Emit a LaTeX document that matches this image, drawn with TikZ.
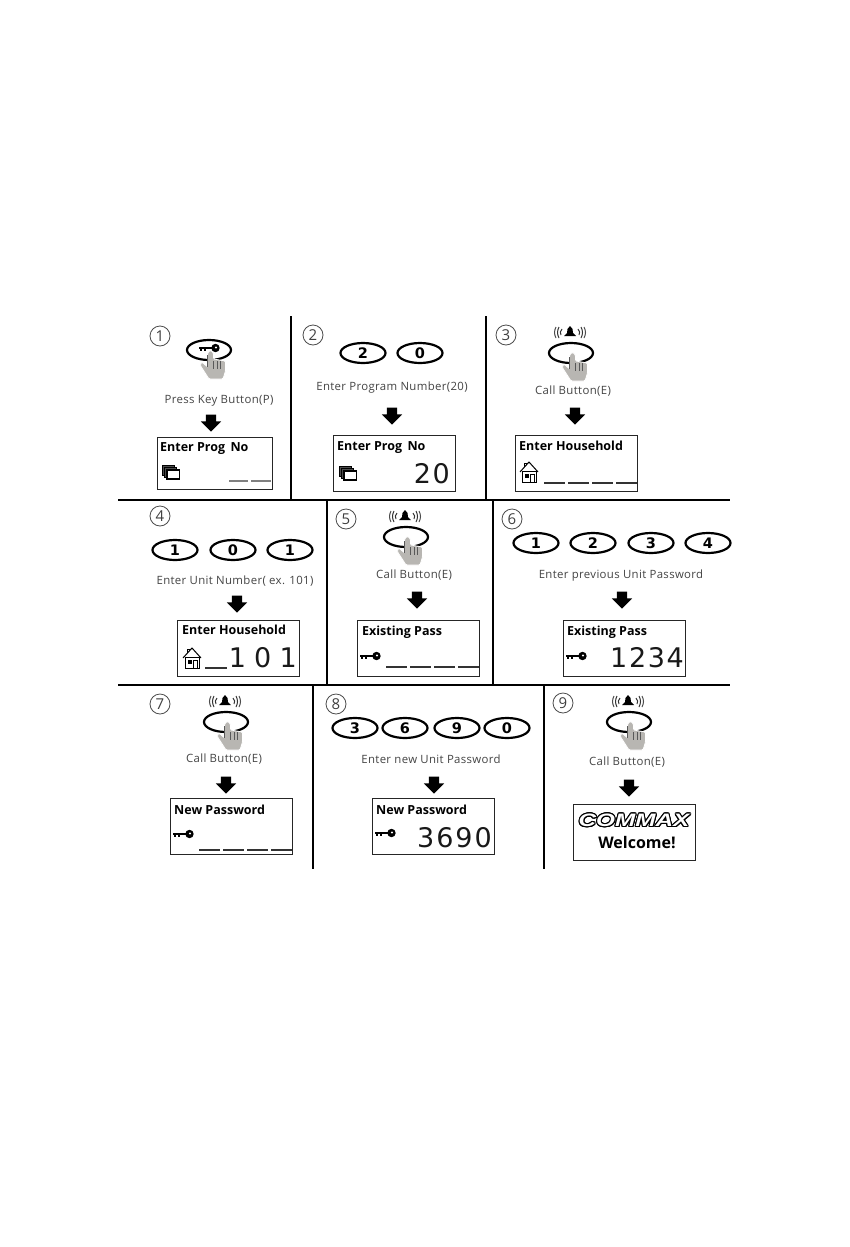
\documentclass[tikz,border=0pt]{standalone}
\usepackage{fontspec}
\usepackage{contour}
\usetikzlibrary{shapes.geometric,shapes.arrows}
\setmainfont{Open Sans}
\newfontfamily\labelfont[LetterSpace=3]{Open Sans}
\newfontfamily\lcdfont[LetterSpace=6]{DejaVu Sans}
\newfontfamily\btnfont{DejaVu Sans}
\newfontfamily\logofont[FakeStretch=1.35]{Liberation Sans}
\contourlength{1pt}
\definecolor{labelgray}{HTML}{444444}
\definecolor{handgray}{HTML}{B8B6B2}
\tikzset{
  divider/.style={line width=2pt, black},
  stepnum/.style={circle, draw=black!70, line width=0.8pt, minimum size=20, inner sep=0pt, font=\fontsize{15}{15}\selectfont, text=black!75},
  numbtn/.style={ellipse, draw=black, line width=2.2pt, minimum width=45, minimum height=20, inner sep=0pt, font=\btnfont\bfseries\fontsize{14.5}{15}\selectfont},
  steplabel/.style={font=\labelfont\fontsize{11.4}{12}\selectfont, text=labelgray, inner sep=0pt, yshift=-0.5pt},
  downarrow/.style={single arrow, fill=black, draw=none, shape border rotate=270, inner sep=0pt, text width=10pt, minimum height=17, minimum width=20, single arrow head extend=5, yshift=1.5pt},
  lcdbox/.style={draw=black!85, line width=1.4pt, anchor=north west, minimum width=122, minimum height=56, inner sep=0pt},
  lcdtitle/.style={anchor=west, inner sep=0pt, font=\bfseries\fontsize{12.5}{12.5}\selectfont},
  lcddigits/.style={anchor=east, inner sep=0pt, font=\lcdfont\fontsize{27}{27}\selectfont, text=black!90},
  lcddash/.style={line width=1.2pt, black!80},
  handicon/.pic={
    \fill[handgray, draw=white, line width=0.8pt, rounded corners=1.2pt] (-2.5,2) -- (-2.5,16) -- (-8,11) -- (-10,14) -- (-1,28) -- (13,28) -- (15.5,20) -- (15.5,10) -- (3.5,8) -- (3.5,2) -- (0.5,-1) -- cycle;
    \foreach \fx in {3.5,7,10.5}
      \draw[black!65, line width=0.8pt] (\fx,10) -- (\fx,18);
    \draw[black!65, line width=0.6pt] (-2.5,4) -- (-2.5,16);
  },
  bellicon/.pic={
    \fill[black] (-6,4) -- (-3,1) -- (-2.5,-3) -- (0,-6) -- (2.5,-3) -- (3,1) -- (6,4) -- cycle;
    \foreach \sx in {-1,1} {
      \draw[black!80, line width=1pt] (\sx*8,-3) .. controls (\sx*10,-1) and (\sx*10,1) .. (\sx*9,3);
      \draw[black!80, line width=1pt] (\sx*11,-5) .. controls (\sx*13,-1) and (\sx*13,2) .. (\sx*11,6);
      \draw[black!70, line width=1pt] (\sx*14,-5) .. controls (\sx*16,-1) and (\sx*16,2) .. (\sx*14,6);
    }
  },
  keyicon/.pic={
    \draw[black, line width=2.2pt] (-10,0) -- (5,0);
    \fill[black] (6.5,0) circle (4.2);
    \fill[white] (7,-0.5) circle (1.2);
    \draw[black, line width=1.8pt] (-8,0) -- (-8,3) (-4,0) -- (-4,3);
  },
  houseicon/.pic={
    \draw[black, line width=0.9pt, fill=white] (-6.5,-1) rectangle (7,10);
    \draw[black, line width=1pt] (-9,0) -- (0,-10) -- (9,0);
    \draw[black, line width=0.9pt] (-5,-5) -- (-5,-9) -- (-3,-9) -- (-3,-7);
    \fill[black] (-4.5,1.5) rectangle (-0.5,5.5);
    \draw[black, line width=0.9pt] (1.5,10) -- (1.5,2) -- (5,2) -- (5,10);
  },
  stackicon/.pic={
    \draw[black, line width=1pt, fill=black!70] (-8.5,-7) rectangle (3,3);
    \draw[black, line width=1pt, fill=black!70] (-6.5,-5) rectangle (5,5);
    \draw[black, line width=1.3pt, fill=white] (-4,-2) rectangle (8.5,7);
  },
  callpress/.pic={
    \pic at (-1,-21) {bellicon};
    \draw[black, line width=2.2pt] (0,0) ellipse (22 and 10);
    \pic at (1,0) {handicon};
  },
  keypress/.pic={
    \draw[black, line width=2.2pt] (0,0) ellipse (22 and 10);
    \pic at (0,-2) {keyicon};
    \pic at (1,1) {handicon};
  },
}
\begin{document}
\begin{tikzpicture}[x=1pt,y=-1pt]
  \fill[white] (0,0) rectangle (850,1247);
  \useasboundingbox (0,0) rectangle (850,1247);
  % Dividers
  \draw[divider] (118,500) -- (730,500);
  \draw[divider] (118,685) -- (730,685);
  \draw[divider] (291,316) -- (291,500);
  \draw[divider] (486,316) -- (486,500);
  \draw[divider] (327,500) -- (327,685);
  \draw[divider] (493,500) -- (493,685);
  \draw[divider] (313,685) -- (313,869);
  \draw[divider] (544,685) -- (544,869);
  % Step 1: key button
  \node[stepnum] (num1) at (160,336) {1};
  \pic at (209,350) {keypress};
  \node[steplabel] (lab1) at (219,400) {Press Key Button(P)};
  \node[downarrow] (arr1) at (211,422) {};
  \node[lcdbox, minimum width=115, minimum height=52] (lcd1) at (157,437) {};
  \node[lcdtitle] (tit1) at (160,449) {Enter Prog\, No};
  \pic at (171,472) {stackicon};
  \draw[lcddash, black!50] (229,481) -- (248,481) (251,481) -- (271,481);
  % Step 2: program number
  \node[stepnum] (num2) at (313,335) {2};
  \node[numbtn] (btn21) at (363,353) {2};
  \node[numbtn] (btn22) at (420,353) {0};
  \node[steplabel] (lab2) at (392,387) {Enter Program Number(20)};
  \node[downarrow] (arr2) at (392,415) {};
  \node[lcdbox] (lcd2) at (333,435) {};
  \node[lcdtitle] (tit2) at (337,448) {Enter Prog\, No};
  \pic at (348,473) {stackicon};
  \node[lcddigits] (dig2) at (450,474) {20};
  % Step 3: call button
  \node[stepnum] (num3) at (506,335) {3};
  \pic at (571,353) {callpress};
  \node[steplabel] (lab3) at (573,391) {Call Button(E)};
  \node[downarrow] (arr3) at (575,415) {};
  \node[lcdbox] (lcd3) at (515,435) {};
  \node[lcdtitle] (tit3) at (519,446) {Enter Household};
  \pic at (529,472) {houseicon};
  \foreach \dx in {544,568,592,616}
    \draw[lcddash] (\dx,483) -- ++(21,0);
  % Step 4: unit number
  \node[stepnum] (num4) at (160,516) {4};
  \node[numbtn] (btn41) at (175,550) {1};
  \node[numbtn] (btn42) at (233,550) {0};
  \node[numbtn] (btn43) at (290,550) {1};
  \node[steplabel] (lab4) at (235,581) {Enter Unit Number( ex. 101)};
  \node[downarrow] (arr4) at (237,603) {};
  \node[lcdbox] (lcd4) at (177,620) {};
  \node[lcdtitle] (tit4) at (182,630) {Enter Household};
  \pic at (192,658) {houseicon};
  \draw[lcddash] (205,668) -- ++(22,0);
  \node[lcddigits] (dig4) at (297,658) {1\kern-2pt\ 0\kern-2pt\ 1};
  % Step 5: call button
  \node[stepnum] (num5) at (346,519) {5};
  \pic at (406,537) {callpress};
  \node[steplabel] (lab5) at (414,575) {Call Button(E)};
  \node[downarrow] (arr5) at (417,599) {};
  \node[lcdbox] (lcd5) at (357,620) {};
  \node[lcdtitle] (tit5) at (362,632) {Existing Pass};
  \pic at (370,656) {keyicon};
  \foreach \dx in {386,410,434,458}
    \draw[lcddash] (\dx,667) -- ++(21,0);
  % Step 6: previous password
  \node[stepnum] (num6) at (512,519) {6};
  \node[numbtn] (btn61) at (536,543) {1};
  \node[numbtn] (btn62) at (593,543) {2};
  \node[numbtn] (btn63) at (651,543) {3};
  \node[numbtn] (btn64) at (708,543) {4};
  \node[steplabel] (lab6) at (621,575) {Enter previous Unit Password};
  \node[downarrow] (arr6) at (622,599) {};
  \node[lcdbox] (lcd6) at (563,620) {};
  \node[lcdtitle] (tit6) at (567,632) {Existing Pass};
  \pic at (576,656) {keyicon};
  \node[lcddigits] (dig6) at (684,658) {1234};
  % Step 7: call button
  \node[stepnum] (num7) at (160,704) {7};
  \pic at (226,722) {callpress};
  \node[steplabel] (lab7) at (224,759) {Call Button(E)};
  \node[downarrow] (arr7) at (226,784) {};
  \node[lcdbox] (lcd7) at (170,798) {};
  \node[lcdtitle] (tit7) at (174,810) {New Password};
  \pic at (183,834) {keyicon};
  \foreach \dx in {199,223,247,271}
    \draw[lcddash] (\dx,850) -- ++(21,0);
  % Step 8: new password
  \node[stepnum] (num8) at (336,704) {8};
  \node[numbtn] (btn81) at (355,728) {3};
  \node[numbtn] (btn82) at (405,728) {6};
  \node[numbtn] (btn83) at (457,728) {9};
  \node[numbtn] (btn84) at (507,728) {0};
  \node[steplabel] (lab8) at (431,759) {Enter new Unit Password};
  \node[downarrow] (arr8) at (434,784) {};
  \node[lcdbox] (lcd8) at (372,798) {};
  \node[lcdtitle] (tit8) at (376,810) {New Password};
  \pic at (385,833) {keyicon};
  \node[lcddigits] (dig8) at (492,838) {3\kern2pt 6\kern2pt 9\kern2pt 0};
  % Step 9: welcome
  \node[stepnum] (num9) at (563,703) {9};
  \pic at (629,722) {callpress};
  \node[steplabel] (lab9) at (627,762) {Call Button(E)};
  \node[downarrow] (arr9) at (629,787) {};
  \node[lcdbox] (lcd9) at (573,804) {};
  \node[inner sep=0pt, font=\logofont\bfseries\itshape\fontsize{18}{18}\selectfont] (logo9) at (634,821) {\contour{black}{\textcolor{white}{COMMAX}}};
  \node[inner sep=0pt, font=\bfseries\fontsize{16}{16}\selectfont] (wel9) at (637,843) {Welcome!};
\end{tikzpicture}
\end{document}
